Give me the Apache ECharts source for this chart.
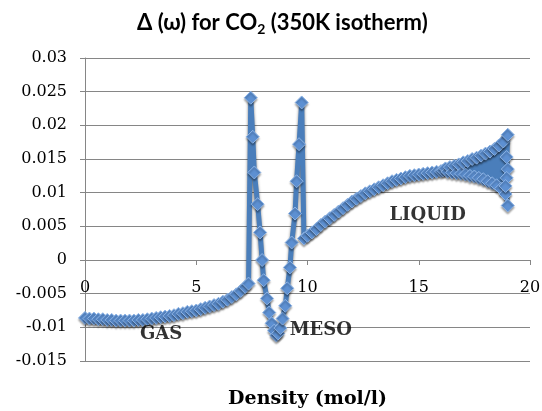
<!DOCTYPE html>
<html>
<head>
<meta charset="utf-8">
<script src="https://cdn.jsdelivr.net/npm/echarts@6/dist/echarts.min.js"></script>
<style>html,body{margin:0;padding:0;background:#fff}#c{width:542px;height:411px}</style>
</head>
<body>
<div id="c"></div>
<script>
// Gas branch
var gasX = [0, 0.2, 0.4, 0.6, 0.8, 1.0, 1.2, 1.4, 1.6, 1.8, 2.0, 2.2, 2.4, 2.6, 2.8, 3.0, 3.2, 3.4, 3.6, 3.8, 4.0, 4.2, 4.4, 4.6, 4.8, 5.0, 5.2, 5.4, 5.6, 5.8, 6.0, 6.2, 6.4, 6.6, 6.8, 7.0, 7.2, 7.35];
var gasY = [-0.0086, -0.0087, -0.0087, -0.0088, -0.0088, -0.0089, -0.0089, -0.0090, -0.0090, -0.0090, -0.0090, -0.0090, -0.0089, -0.0089, -0.0088, -0.0087, -0.0086, -0.0085, -0.0084, -0.0083, -0.0082, -0.0080, -0.0079, -0.0077, -0.0076, -0.0075, -0.0073, -0.0071, -0.0069, -0.0067, -0.0065, -0.0062, -0.0059, -0.0055, -0.0051, -0.0046, -0.0040, -0.0035];
// Meso branch
var mesoX = [7.45, 7.54, 7.61, 7.76, 7.87, 7.96, 8.03, 8.18, 8.28, 8.39, 8.50, 8.60, 8.68, 8.78, 8.88, 9.00, 9.09, 9.21, 9.29, 9.44, 9.51, 9.62, 9.74];
var mesoY = [0.0241, 0.0183, 0.0130, 0.0083, 0.0041, 0.0000, -0.0030, -0.0057, -0.0078, -0.0094, -0.0105, -0.0112, -0.0109, -0.0101, -0.0087, -0.0068, -0.0042, -0.0011, 0.0026, 0.0069, 0.0117, 0.0172, 0.0234];
// Liquid branch
var liqX = [9.84, 10.0, 10.2, 10.4, 10.6, 10.8, 11.0, 11.2, 11.4, 11.6, 11.8, 12.0, 12.2, 12.4, 12.6, 12.8, 13.0, 13.2, 13.4, 13.6, 13.8, 14.0, 14.2, 14.4, 14.6, 14.8, 15.0, 15.2, 15.4, 15.6, 15.8, 16.0, 16.1,
  16.2, 16.3, 16.4, 16.5, 16.6, 16.7, 16.8, 16.9, 17.0, 17.1, 17.2, 17.3, 17.4, 17.5, 17.6, 17.7, 17.8, 17.9, 18.0, 18.1, 18.2, 18.3, 18.4, 18.5, 18.6, 18.7, 18.8, 18.9, 19.0, 18.95, 19.0, 18.95, 18.9, 19.0];
var liqY = [0.0032, 0.0036, 0.0041, 0.0046, 0.0052, 0.0057, 0.0062, 0.0067, 0.0072, 0.0077, 0.0082, 0.0087, 0.0091, 0.0095, 0.0099, 0.0102, 0.0105, 0.0108, 0.0111, 0.0114, 0.0117, 0.0119, 0.0121, 0.0123, 0.0125, 0.0126, 0.0127, 0.0128, 0.0129, 0.0130, 0.0131, 0.0132, 0.0133,
  0.0136, 0.0131, 0.0138, 0.0130, 0.0140, 0.0129, 0.0142, 0.0128, 0.0145, 0.0127, 0.0147, 0.0125, 0.0150, 0.0124, 0.0152, 0.0122, 0.0155, 0.0120, 0.0158, 0.0117, 0.0161, 0.0114, 0.0165, 0.0111, 0.0170, 0.0106, 0.0176, 0.0098, 0.0186, 0.0153, 0.0135, 0.0122, 0.0110, 0.0081];
// Phase annotations
var annoNames = ['GAS', 'MESO', 'LIQUID'];
var annoX = [3.42, 10.6, 15.4];
var annoY = [-0.0111, -0.0104, 0.0067];

var xTicks = [0, 5, 10, 15, 20];
var yMin = -0.015, yMax = 0.03, yStep = 0.005;

var allX = gasX.concat(mesoX, liqX);
var allY = gasY.concat(mesoY, liqY);
var lineData = allX.map(function (x, i) { return [x, allY[i]]; });
var annoData = annoNames.map(function (n, i) { return { value: [annoX[i], annoY[i]], name: n }; });

var chart = echarts.init(document.getElementById('c'), null, { renderer: 'canvas' });
chart.setOption({
  animation: false,
  title: {
    text: 'Δ (ω) for CO{s|2} (350K isotherm)',
    left: 132, top: 5,
    textStyle: {
      fontFamily: 'Lato', fontWeight: 'bold', fontSize: 22, color: '#000',
      rich: { s: { fontFamily: 'Lato', fontWeight: 'bold', fontSize: 14, color: '#000', verticalAlign: 'bottom', padding: [12, 0, 0, 0] } }
    }
  },
  grid: { left: 85, right: 12, top: 58, bottom: 50, containLabel: false, outerBoundsMode: 'none' },
  xAxis: {
    type: 'value', min: xTicks[0], max: xTicks[xTicks.length - 1], interval: 5,
    name: 'Density (mol/l)', nameLocation: 'middle', nameGap: 130,
    nameTextStyle: { fontFamily: 'DejaVu Serif', fontWeight: 'bold', fontSize: 19, color: '#000' },
    axisLine: { onZero: true, lineStyle: { color: '#868686', width: 1 } },
    axisTick: { show: true, length: 5, lineStyle: { color: '#868686' } },
    axisLabel: { margin: 20, fontFamily: 'DejaVu Serif', fontSize: 16, color: '#000' },
    splitLine: { show: false }
  },
  yAxis: {
    type: 'value', min: yMin, max: yMax, interval: yStep,
    axisLine: { show: true, onZero: false, lineStyle: { color: '#868686', width: 1 } },
    axisTick: { show: true, length: 5, lineStyle: { color: '#868686' } },
    axisLabel: {
      margin: 18, fontFamily: 'DejaVu Serif', fontSize: 16, color: '#000',
      formatter: function (v) { return String(+v.toFixed(3)); }
    },
    splitLine: { show: true, lineStyle: { color: '#868686', width: 1 } }
  },
  series: [{
    type: 'line',
    data: lineData,
    symbol: 'diamond', symbolSize: 13,
    showAllSymbol: true,
    lineStyle: { color: '#4a7ebb', width: 5, shadowColor: 'rgba(0,0,0,0.55)', shadowBlur: 3, shadowOffsetY: 3 },
    itemStyle: { color: '#5d90d2', borderColor: '#8cb2e3', borderWidth: 1, shadowColor: 'rgba(0,0,0,0.35)', shadowBlur: 2, shadowOffsetY: 2 },
    z: 2
  }, {
    type: 'scatter',
    data: annoData,
    symbolSize: 0,
    label: {
      show: true, position: 'inside', formatter: '{b}',
      fontFamily: 'DejaVu Serif', fontWeight: 'bold', fontSize: 18, color: '#000'
    },
    z: 5
  }]
});
// Place the x axis on the y = 0 line, using the library's own y scale
var zeroPx = chart.convertToPixel({ yAxisIndex: 0 }, 0);
var bottomPx = chart.convertToPixel({ yAxisIndex: 0 }, yMin);
chart.setOption({ xAxis: { offset: zeroPx - bottomPx } });
</script>
</body>
</html>
